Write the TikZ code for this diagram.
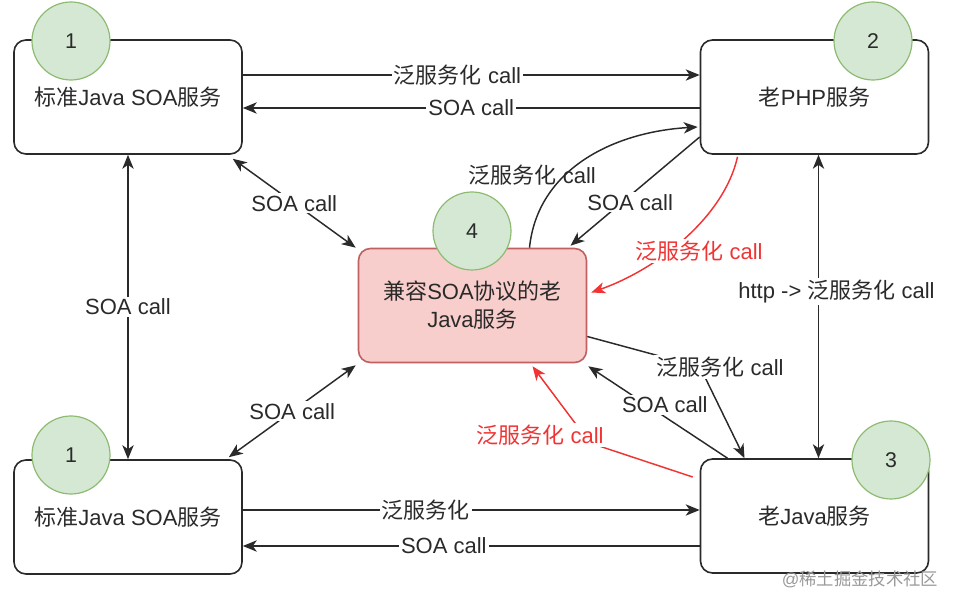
\documentclass[tikz,border=0pt]{standalone}
\usepackage{fontspec}
\setmainfont{Liberation Sans}
\newfontfamily\zh{Noto Sans CJK SC}
\usetikzlibrary{arrows.meta,positioning,calc}
\definecolor{ink}{HTML}{2A2A2A}
\definecolor{badgefill}{HTML}{D5E8D4}
\definecolor{badgeline}{HTML}{8DBB72}
\definecolor{pinkfill}{HTML}{F8CECC}
\definecolor{pinkline}{HTML}{C06060}
\definecolor{callred}{HTML}{F03434}

\begin{document}
\begin{tikzpicture}[x=0.75pt, y=-0.75pt,
    svc/.style={draw=ink, line width=1.2pt, rounded corners=9pt, fill=white, minimum width=171pt, minimum height=85.5pt, align=center, text=ink, font=\fontsize{16.5}{21}\selectfont},
    badge/.style={circle, draw=badgeline, fill=badgefill, line width=0.9pt, minimum size=58.5pt, inner sep=0pt, text=ink, font=\fontsize{16}{18}\selectfont},
    lbl/.style={fill=white, inner sep=1.5pt, text=ink, font=\fontsize{16.5}{20}\selectfont},
    arr/.style={-{Stealth[length=10.5pt, width=8.5pt, inset=3pt]}, line width=1.1pt, draw=ink},
    biarr/.style={{Stealth[length=10.5pt, width=8.5pt, inset=3pt]}-{Stealth[length=10.5pt, width=8.5pt, inset=3pt]}, line width=1.1pt, draw=ink},
    redarr/.style={-{Stealth[length=10.5pt, width=8.5pt, inset=3pt]}, line width=1.1pt, draw=callred}
]
\useasboundingbox (0,0) rectangle (958,609);

% services
\node[svc] (A) at (128,97) {{\zh 标准}Java SOA{\zh 服务}};
\node[svc] (B) at (814.5,97) {{\zh 老}PHP{\zh 服务}};
\node[svc] (C) at (128,517) {{\zh 标准}Java SOA{\zh 服务}};
\node[svc] (D) at (814.5,516) {{\zh 老}Java{\zh 服务}};
\node[svc, fill=pinkfill, draw=pinkline] (E) at (472.5,305.5) {{\zh 兼容}SOA{\zh 协议的老}\\Java{\zh 服务}};

% number badges
\node[badge] (b1) at (71,41) {1};
\node[badge] (b2) at (873,41) {2};
\node[badge] (b3) at (891,460) {3};
\node[badge] (b4) at (472,231) {4};
\node[badge] (b5) at (71,455) {1};

% top and bottom rows
\draw[arr] ($(A.east)+(0,-22)$) -- node[lbl, pos=0.47] (l1) {{\zh 泛服务化} call} ($(B.west)+(0,-22)$);
\draw[arr] ($(B.west)+(0,11)$) -- node[lbl] (l2) {SOA call} ($(A.east)+(0,11)$);
\draw[arr] ($(C.east)+(0,-7)$) -- node[lbl, pos=0.4] (l3) {{\zh 泛服务化}} ($(D.west)+(0,-6)$);
\draw[arr] ($(D.west)+(0,30)$) -- node[lbl, pos=0.56] (l4) {SOA call} ($(C.east)+(0,29)$);

% verticals
\draw[biarr] (A) -- node[lbl] (l5) {SOA call} (C);
\draw[biarr] ($(B.south)+(4,0)$) -- node[lbl, xshift=13.5pt, yshift=11pt] (l6) {http -> {\zh 泛服务化} call} ($(D.north)+(4,0)$);

% to and from the middle
\draw[biarr] ($(A.south east)+(-10,4)$) -- node[lbl] (l7) {SOA call} ($(E.north west)+(-2,0)$);
\draw[biarr] ($(C.north east)+(-14,-2)$) -- node[lbl] (l8) {SOA call} ($(E.south west)+(-2,2)$);
\draw[arr] ($(E.north)+(57,0)$) .. controls +(8,-78) and +(-85,5) .. node[pos=0.3, xshift=-15.75pt, yshift=9.75pt, text=ink, font=\fontsize{16.5}{20}\selectfont] (l9) {{\zh 泛服务化} call} ($(B.west)+(-2,30)$);
\draw[arr] ($(B.west)+(0,40)$) -- node[lbl, pos=0.6, xshift=6pt] (l10) {SOA call} ($(E.north)+(98,-2)$);
\draw[redarr] ($(B.south)+(-77,2)$) .. controls +(-13,59) and +(68,-24) .. node[lbl, text=callred, pos=0.5, xshift=10.5pt, yshift=-9.75pt] (l11) {{\zh 泛服务化} call} ($(E.east)+(4,-13)$);

\coordinate (w1) at (700,367);
\draw[arr] ($(E.east)+(0,31)$) -- (w1) node[lbl, xshift=15pt] (l12) {{\zh 泛服务化} call} -- ($(D.north)+(-70,0)$);
\draw[arr] ($(D.north)+(-87,0)$) -- node[lbl, pos=0.45, yshift=9pt] (l13) {SOA call} ($(E.south east)+(1,3)$);
\coordinate (w2) at (590,443);
\draw[redarr] ($(D.west)+(-7,-39)$) -- (w2) node[lbl, text=callred, xshift=-37.5pt, yshift=6pt] (l14) {{\zh 泛服务化} call} -- ($(E.south)+(60,3)$);

% watermark
\node[text=black!40, font=\fontsize{13}{15}\selectfont] (wm) at (860,579) {@{\zh 稀土掘金技术社区}};
\end{tikzpicture}
\end{document}
